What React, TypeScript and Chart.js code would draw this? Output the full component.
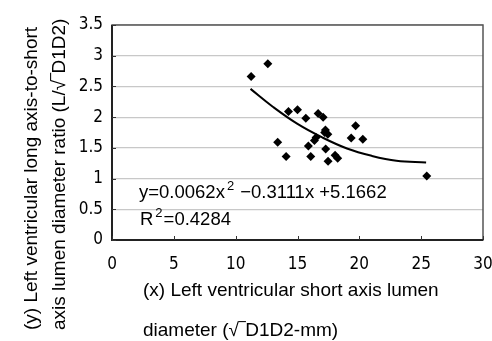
import React, { useEffect, useRef } from "react";
import { Chart, registerables } from "chart.js";

Chart.register(...registerables);

// Scatter data (x: short axis lumen diameter, y: long/short ratio)
const xValues = [11.25, 12.6, 13.4, 14.08, 14.27, 15.0, 15.67, 15.88, 16.07, 16.37, 16.5, 16.67, 17.07, 17.26, 17.45, 17.2, 17.28, 17.47, 18.04, 18.25, 19.34, 19.7, 20.28, 25.45];
const yValues = [2.66, 2.87, 1.59, 1.36, 2.09, 2.12, 1.98, 1.53, 1.36, 1.62, 1.67, 2.06, 2.0, 1.79, 1.72, 1.75, 1.48, 1.28, 1.38, 1.33, 1.66, 1.86, 1.64, 1.04];

// Trend curve
const trendX = [11.2, 13, 15, 17, 19, 21, 23, 25.4];
const trendY = [2.46, 2.17, 1.89, 1.67, 1.49, 1.37, 1.29, 1.26];

// Axes
const xMin = 0;
const xMax = 30;
const xStep = 5;
const yMin = 0;
const yMax = 3.5;
const yStep = 0.5;

// Texts
const xTitleLines = ["(x) Left ventricular short axis lumen", "diameter (\u221A\u203ED1D2-mm)"];
const yTitleLines = ["(y) Left ventricular long axis-to-short", "axis lumen diameter ratio (L/\u221A\u203ED1D2)"];
const eqLine1: [string, boolean][] = [["y=0.0062x", false], ["2", true], [" \u22120.3111x +5.1662", false]];
const eqLine2: [string, boolean][] = [["R", false], ["2", true], ["=0.4284", false]];

const MAIN_FONT = '"Liberation Sans", Arial, sans-serif';
const TICK_FONT = '"DejaVu Sans Condensed", "Liberation Sans Narrow", "Liberation Sans", Arial, sans-serif';

function drawParts(ctx: CanvasRenderingContext2D, parts: [string, boolean][], x: number, y: number, size: number) {
  let cx = x;
  for (const [t, sup] of parts) {
    if (sup) {
      ctx.font = `${Math.round(size * 0.72)}px ${MAIN_FONT}`;
      ctx.fillText(t, cx + 2, y - size * 0.38);
      cx += ctx.measureText(t).width + 3;
    } else {
      ctx.font = `${size}px ${MAIN_FONT}`;
      ctx.fillText(t, cx, y);
      cx += ctx.measureText(t).width;
    }
  }
}

const decorPlugin = {
  id: "decor",
  afterDraw(chart: any) {
    const ctx: CanvasRenderingContext2D = chart.ctx;
    const { left, right, top, bottom } = chart.chartArea;
    const xs = chart.scales.x;
    const ys = chart.scales.y;
    ctx.save();
    // plot box
    ctx.strokeStyle = "#555";
    ctx.lineWidth = 1.5;
    ctx.strokeRect(left, top, right - left, bottom - top);
    ctx.strokeStyle = "#222";
    ctx.lineWidth = 2;
    ctx.beginPath();
    ctx.moveTo(left, top);
    ctx.lineTo(left, bottom);
    ctx.lineTo(right, bottom);
    ctx.stroke();
    // inside tick marks
    ctx.lineWidth = 1;
    ctx.strokeStyle = "#333";
    ctx.beginPath();
    for (let v = xMin; v <= xMax; v += xStep) {
      const px = Math.round(xs.getPixelForValue(v)) + 0.5;
      ctx.moveTo(px, bottom);
      ctx.lineTo(px, bottom - 4);
    }
    for (let v = yMin; v <= yMax + 1e-9; v += yStep) {
      const py = Math.round(ys.getPixelForValue(v)) + 0.5;
      ctx.moveTo(left, py);
      ctx.lineTo(left + 4, py);
    }
    ctx.stroke();

    ctx.fillStyle = "#000";
    ctx.textBaseline = "middle";
    ctx.textAlign = "left";
    // x title
    ctx.font = `19px ${MAIN_FONT}`;
    xTitleLines.forEach((line, i) => {
      ctx.fillText(line, left + 31, bottom + 51 + i * 40);
    });
    // y title
    yTitleLines.forEach((line, i) => {
      ctx.save();
      ctx.translate(32 + i * 28, 330);
      ctx.rotate(-Math.PI / 2);
      ctx.font = `19px ${MAIN_FONT}`;
      ctx.fillText(line, 0, 0);
      ctx.restore();
    });
    // equation
    drawParts(ctx, eqLine1, left + 27, 193, 18.5);
    drawParts(ctx, eqLine2, left + 28, 220, 18.5);
    ctx.restore();
  },
};

export default function App() {
  const canvasRef = useRef<HTMLCanvasElement | null>(null);

  useEffect(() => {
    document.body.style.margin = "0";
    const canvas = canvasRef.current;
    if (!canvas) return;
    const chart = new Chart(canvas, {
      type: "scatter",
      data: {
        datasets: [
          {
            label: "data",
            data: xValues.map((x, i) => ({ x, y: yValues[i] })),
            pointStyle: "rectRot",
            pointRadius: 4.5,
            backgroundColor: "#000",
            borderColor: "#000",
            borderWidth: 0,
          },
          {
            label: "trend",
            data: trendX.map((x, i) => ({ x, y: trendY[i] })),
            showLine: true,
            pointRadius: 0,
            borderColor: "#000",
            borderWidth: 2,
            tension: 0.4,
            fill: false,
          },
        ],
      },
      options: {
        animation: false,
        responsive: false,
        maintainAspectRatio: false,
        layout: { padding: { top: 25, right: 9, left: 0, bottom: 0 } },
        plugins: {
          legend: { display: false },
          tooltip: { enabled: false },
          title: { display: false },
        },
        scales: {
          x: {
            type: "linear",
            min: xMin,
            max: xMax,
            ticks: {
              stepSize: xStep,
              color: "#000",
              font: { family: TICK_FONT, size: 17 },
              padding: 14,
              maxRotation: 0,
            },
            grid: { display: false, drawTicks: false },
            border: { display: false },
            afterFit: (scale: any) => {
              scale.height = 101;
              scale.paddingRight = 0;
              scale.paddingLeft = 0;
            },
          },
          y: {
            type: "linear",
            min: yMin,
            max: yMax,
            ticks: {
              stepSize: yStep,
              color: "#000",
              font: { family: TICK_FONT, size: 17 },
              padding: 9,
              callback: (v: any) => String(Number(v)),
            },
            grid: { color: "#c8c8c8", lineWidth: 1.2, drawTicks: false },
            border: { display: false },
            afterFit: (scale: any) => {
              scale.width = 112;
              scale.paddingTop = 0;
              scale.paddingBottom = 0;
            },
          },
        },
      },
      plugins: [decorPlugin],
    });
    return () => chart.destroy();
  }, []);

  return (
    <div style={{ width: 492, height: 341, background: "#fff" }}>
      <canvas ref={canvasRef} width={492} height={341} />
    </div>
  );
}
